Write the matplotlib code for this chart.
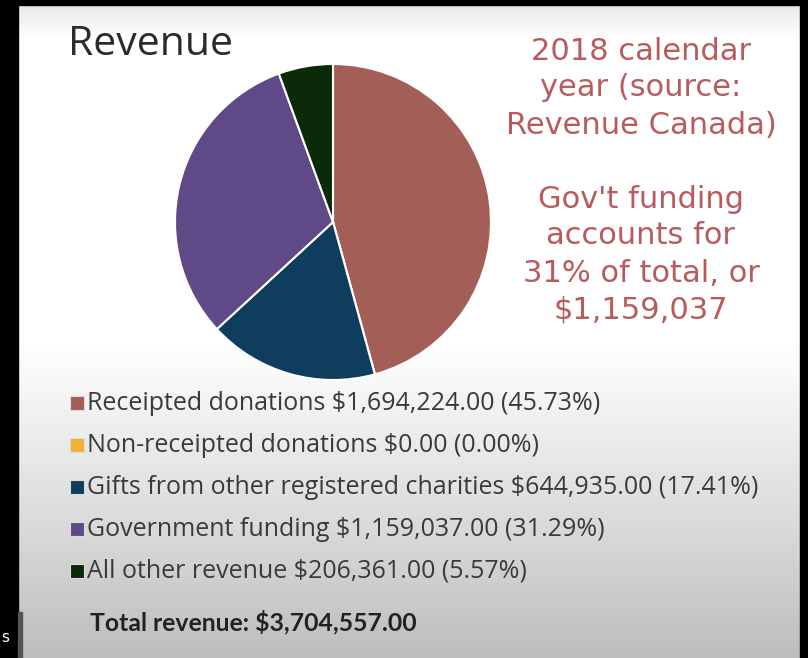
import matplotlib.pyplot as plt
import numpy as np
from matplotlib.patches import Rectangle

# Revenue breakdown, 2018
labels = ["Receipted donations", "Non-receipted donations",
          "Gifts from other registered charities", "Government funding",
          "All other revenue"]
amounts = [1694224.00, 0.00, 644935.00, 1159037.00, 206361.00]
percents = [45.73, 0.00, 17.41, 31.29, 5.57]
colors = ["#a45e58", "#f0b135", "#0f3d5e", "#5f4a87", "#0b2a0a"]
total = 3704557.00

side_lines = ["2018 calendar", "year (source:", "Revenue Canada)", "",
              "Gov't funding", "accounts for", "31% of total, or", "$1,159,037"]

W, H = 808, 658
fig = plt.figure(figsize=(W / 100, H / 100), dpi=100)

# background in pixel coordinates
bg = fig.add_axes([0, 0, 1, 1])
bg.set_xlim(0, W)
bg.set_ylim(H, 0)
bg.axis("off")
ys = np.arange(H)
shade = np.interp(ys, [0, 40, 340, 540, 658], [0.90, 1.0, 1.0, 0.84, 0.74])
bg.imshow(np.tile(shade[:, None], (1, 2)), cmap="gray", vmin=0, vmax=1,
          extent=[0, W, H, 0], aspect="auto")
# black frame of the video capture
bg.add_patch(Rectangle((0, 0), W, 5, color="black"))
bg.add_patch(Rectangle((0, 0), 18, H, color="black"))
bg.add_patch(Rectangle((800, 0), 8, H, color="black"))
bg.add_patch(Rectangle((18, 612), 4, H - 612, color="#555555"))
bg.text(1, 637, "s", color="white", fontsize=11, ha="left", va="center",
        family="DejaVu Sans")

bg.text(68, 45, "Revenue", fontsize=29.5, color="#2b2b2b", family="Open Sans",
        va="center", ha="left")

for i, line in enumerate(side_lines):
    bg.text(641, 51 + i * 37, line, fontsize=22, color="#b95a5c",
            family="DejaVu Sans", ha="center", va="center")

# legend rows
for i, (lab, amt, pct, col) in enumerate(zip(labels, amounts, percents, colors)):
    y = 403 + i * 42
    bg.add_patch(Rectangle((70, y - 7), 14, 14, facecolor=col,
                           edgecolor="#dddddd", linewidth=0.8))
    bg.text(87, y, f"{lab} ${amt:,.2f} ({pct:.2f}%)", fontsize=18,
            color="#3a3a3a", family="Open Sans", va="center", ha="left")

bg.text(90, 622, f"Total revenue: ${total:,.2f}", fontsize=17.8,
        color="#222222", family="Lato", weight="bold", va="center", ha="left")

# pie
cx, cy, r = 333, 222, 158
pad = 4
ax = fig.add_axes([(cx - r - pad) / W, 1 - (cy + r + pad) / H,
                   2 * (r + pad) / W, 2 * (r + pad) / H])
ax.pie(amounts, colors=colors, startangle=90, counterclock=False,
       wedgeprops=dict(edgecolor="white", linewidth=1.5))
lim = (r + pad) / r
ax.set_xlim(-lim, lim)
ax.set_ylim(-lim, lim)
ax.axis("off")

fig.savefig("out.png", dpi=100)
